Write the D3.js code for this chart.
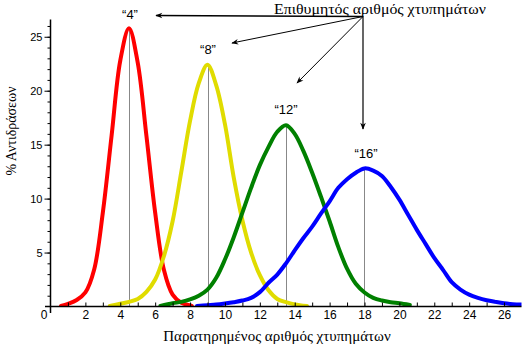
<!DOCTYPE html>
<html><head><meta charset="utf-8">
<script src="https://cdn.jsdelivr.net/npm/d3@7"></script>
<style>
html,body{margin:0;padding:0;background:#fff;}
svg{display:block;}
</style></head>
<body>
<script>
// ---- data ----
const targetLabels = ["“4”", "“8”", "“12”", "“16”"];
const means = [4.5, 9, 13.5, 18];
const colors = ["#ff0000", "#e0dc00", "#008000", "#0000ff"];

const redX = [0.6, 1, 1.5, 2, 2.5, 3, 3.5, 4, 4.5, 5, 5.5, 6, 6.5, 7, 7.5, 8, 8.1];
const redY = [0.05, 0.25, 0.6, 1.3, 3.4, 8.7, 15.8, 22.8, 25.8, 22.6, 15.8, 8.7, 3.4, 1.1, 0.35, 0.1, 0.05];

const yellowX = [3.4, 4, 4.5, 5, 5.5, 6, 6.5, 7, 7.5, 8, 8.5, 9, 9.5, 10, 10.5, 11, 11.5, 12, 12.5, 13, 13.5, 14, 14.7];
const yellowY = [0.05, 0.25, 0.43, 0.7, 1.36, 2.5, 4.66, 7.9, 12.5, 17.2, 20.7, 22.4, 20.5, 16.9, 12.0, 8.0, 5.0, 2.9, 1.5, 0.7, 0.4, 0.2, 0.05];

const greenX = [6.3, 7, 7.5, 8, 8.5, 9, 9.5, 10, 10.5, 11, 11.5, 12, 12.5, 13, 13.5, 14, 14.5, 15, 15.5, 16, 16.5, 17, 17.5, 18, 18.5, 19, 19.5, 20, 20.6];
const greenY = [0.05, 0.3, 0.43, 0.65, 1.0, 1.57, 2.66, 4.35, 6.4, 8.7, 11.0, 13.1, 14.8, 16.2, 16.8, 16.0, 14.4, 12.4, 10.2, 7.9, 5.5, 3.5, 2.1, 1.3, 0.8, 0.55, 0.4, 0.3, 0.15];

const blueX = [8.4, 9, 9.5, 10, 10.5, 11, 11.5, 12, 12.5, 13, 13.5, 14, 14.5, 15, 15.5, 16, 16.5, 17, 17.5, 18, 18.5, 19, 19.5, 20, 20.5, 21, 21.5, 22, 22.5, 23, 23.5, 24, 24.5, 25, 25.5, 26, 26.5, 27];
const blueY = [0.05, 0.12, 0.18, 0.28, 0.4, 0.55, 0.8, 1.33, 2.2, 2.96, 4.0, 5.2, 6.35, 7.4, 8.6, 9.75, 11.0, 11.8, 12.4, 12.8, 12.6, 12.1, 11.1, 9.9, 8.5, 7.1, 5.8, 4.5, 3.4, 2.25, 1.57, 1.1, 0.8, 0.58, 0.43, 0.3, 0.22, 0.18];

const xTickLabels = [0, 2, 4, 6, 8, 10, 12, 14, 16, 18, 20, 22, 24, 26];
const yTickLabels = [5, 10, 15, 20, 25];

const titleText = "Επιθυμητός αριθμός χτυπημάτων";
const xTitle = "Παρατηρημένος αριθμός χτυπημάτων";
const yTitle = "% Αντιδράσεων";

// ---- layout ----
const W = 522, H = 355;
const svg = d3.select("body").append("svg").attr("width", W).attr("height", H);
svg.append("rect").attr("width", W).attr("height", H).attr("fill", "#fff");

const x = d3.scaleLinear().domain([0, 27]).range([50.5, 521.5]);
const y = d3.scaleLinear().domain([0, 26.6]).range([306.5, 19.5]);

const series = [
  {xs: redX, ys: redY},
  {xs: yellowX, ys: yellowY},
  {xs: greenX, ys: greenY},
  {xs: blueX, ys: blueY}
];

// clip
svg.append("clipPath").attr("id", "clip").append("rect")
  .attr("x", x(0)).attr("y", 0).attr("width", x(27) - x(0)).attr("height", y(0) - 0);

// vertical mean lines
series.forEach((s, i) => {
  const peak = d3.max(s.ys);
  svg.append("line")
    .attr("x1", Math.round(x(means[i])) + 0.5).attr("x2", Math.round(x(means[i])) + 0.5)
    .attr("y1", y(0)).attr("y2", y(peak))
    .attr("stroke", "#888").attr("stroke-width", 1);
});

// curves
const line = d3.line().x(d => x(d[0])).y(d => y(d[1])).curve(d3.curveCatmullRom.alpha(0.5));
const g = svg.append("g").attr("clip-path", "url(#clip)");
series.forEach((s, i) => {
  g.append("path")
    .datum(s.xs.map((v, j) => [v, s.ys[j]]))
    .attr("d", line)
    .attr("fill", "none")
    .attr("stroke", colors[i])
    .attr("stroke-width", 4)
    .attr("stroke-linejoin", "round")
    .attr("stroke-linecap", "round");
});

// axes
const axisFont = "'Liberation Sans', Arial, sans-serif";
// x-axis: ticks inside (upward)
const xMinor = svg.append("g").attr("transform", `translate(0,${y(0)})`)
  .call(d3.axisTop(x).tickValues(d3.range(1, 27)).tickSize(4).tickFormat(""));
xMinor.select(".domain").remove();
xMinor.selectAll("line").attr("stroke", "#000");

const xLab = svg.append("g").attr("transform", `translate(0,${y(0)})`)
  .call(d3.axisBottom(x).tickValues(xTickLabels).tickSize(0).tickPadding(4).tickFormat(d3.format("d")));
xLab.select(".domain").remove();
xLab.selectAll("text").attr("font-family", axisFont).attr("font-size", 12).attr("fill", "#000")
  .attr("dx", d => d === 0 ? -7 : 0);

svg.append("line").attr("x1", 45).attr("x2", x(27)).attr("y1", y(0)).attr("y2", y(0))
  .attr("stroke", "#000").attr("stroke-width", 1.5);

// y-axis
const yMinor = svg.append("g").attr("transform", `translate(${x(0)},0)`)
  .call(d3.axisLeft(y).tickValues(d3.range(1, 27)).tickSize(3).tickFormat(""));
yMinor.select(".domain").remove();
const yMajor = svg.append("g").attr("transform", `translate(${x(0)},0)`)
  .call(d3.axisLeft(y).tickValues(yTickLabels).tickSize(6).tickPadding(2));
yMajor.select(".domain").remove();
yMajor.selectAll("text").attr("font-family", axisFont).attr("font-size", 11).attr("fill", "#000");

svg.append("line").attr("x1", x(0)).attr("x2", x(0)).attr("y1", 19.5).attr("y2", 313)
  .attr("stroke", "#000").attr("stroke-width", 1.5);

// axis titles
const serif = "'Liberation Serif', 'Times New Roman', serif";
svg.append("text").attr("x", 277).attr("y", 341).attr("text-anchor", "middle")
  .attr("font-family", serif).attr("font-size", 15).text(xTitle);
svg.append("text").attr("transform", "translate(16,131) rotate(-90)").attr("text-anchor", "middle")
  .attr("font-family", serif).attr("font-size", 14).text(yTitle);

// peak labels
const labelPos = [[130, 19], [208, 54], [286, 114], [366, 158]];
targetLabels.forEach((t, i) => {
  svg.append("text").attr("x", labelPos[i][0]).attr("y", labelPos[i][1])
    .attr("text-anchor", "middle").attr("font-family", axisFont).attr("font-size", 13)
    .text(t);
});

// title & arrows
svg.append("text").attr("x", 380).attr("y", 13.5).attr("text-anchor", "middle")
  .attr("font-family", serif).attr("font-size", 15)
  .attr("textLength", 212).attr("lengthAdjust", "spacingAndGlyphs").text(titleText);

const defs = svg.append("defs");
defs.append("marker").attr("id", "arr").attr("viewBox", "0 -5 10 10")
  .attr("refX", 9).attr("refY", 0).attr("markerWidth", 9).attr("markerHeight", 7)
  .attr("markerUnits", "userSpaceOnUse").attr("orient", "auto")
  .append("path").attr("d", "M0,-4L10,0L0,4L3,0Z").attr("fill", "#000");

const origin = [363, 16.5];
const arrowEnds = [[156, 15.5, 1.5], [232, 43, 1], [297, 83, 1], [363, 129, 1.2]];
arrowEnds.forEach(e => {
  svg.append("line").attr("x1", origin[0]).attr("y1", origin[1]).attr("x2", e[0]).attr("y2", e[1])
    .attr("stroke", "#000").attr("stroke-width", e[2]).attr("marker-end", "url(#arr)");
});
</script>
</body></html>
